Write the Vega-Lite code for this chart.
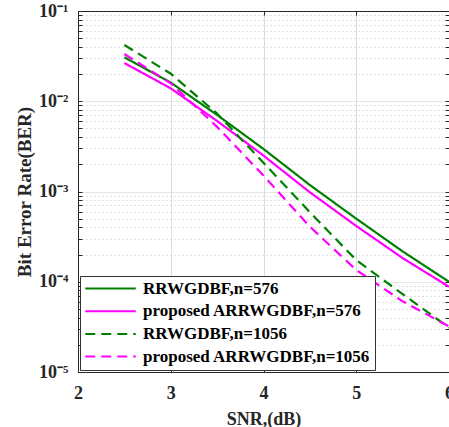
{
  "$schema": "https://vega.github.io/schema/vega-lite/v6.json",
  "width": 371,
  "height": 361,
  "autosize": {"type": "none"},
  "padding": {"left": 78, "top": 11, "right": 0, "bottom": 55},
  "background": "white",
  "config": {
    "view": {"stroke": null},
    "font": "Liberation Serif",
    "axis": {
      "labelFont": "Liberation Serif",
      "labelFontWeight": "bold",
      "labelFontSize": 18,
      "labelColor": "#262626",
      "titleFont": "Liberation Serif",
      "titleFontWeight": "bold",
      "titleFontSize": 18,
      "titleColor": "#262626",
      "domainColor": "#262626",
      "tickColor": "#262626",
      "tickSize": -4,
      "tickWidth": 1,
      "domainWidth": 1
    },
    "legend": {
      "orient": "bottom-left",
      "offset": 2,
      "title": null,
      "fillColor": "white",
      "strokeColor": "#333333",
      "strokeWidth": 1,
      "padding": 4,
      "symbolType": "stroke",
      "symbolSize": 2550,
      "symbolStrokeWidth": 2,
      "clipHeight": 17,
      "rowPadding": 4.7,
      "labelOffset": 6,
      "labelFont": "Liberation Serif",
      "labelFontWeight": "bold",
      "labelFontSize": 17,
      "labelColor": "#000000",
      "labelLimit": 400
    }
  },
  "data": {
    "values": [
      {"snr": 2.5, "ber": 0.0307, "series": "RRWGDBF,n=576"},
      {"snr": 3.0, "ber": 0.0161, "series": "RRWGDBF,n=576"},
      {"snr": 3.5, "ber": 0.00705, "series": "RRWGDBF,n=576"},
      {"snr": 4.0, "ber": 0.00296, "series": "RRWGDBF,n=576"},
      {"snr": 4.5, "ber": 0.00118, "series": "RRWGDBF,n=576"},
      {"snr": 5.0, "ber": 0.0005, "series": "RRWGDBF,n=576"},
      {"snr": 5.5, "ber": 0.000217, "series": "RRWGDBF,n=576"},
      {"snr": 6.0, "ber": 0.0001, "series": "RRWGDBF,n=576"},
      {"snr": 2.5, "ber": 0.0265, "series": "proposed ARRWGDBF,n=576"},
      {"snr": 3.0, "ber": 0.0139, "series": "proposed ARRWGDBF,n=576"},
      {"snr": 3.5, "ber": 0.00604, "series": "proposed ARRWGDBF,n=576"},
      {"snr": 4.0, "ber": 0.0025, "series": "proposed ARRWGDBF,n=576"},
      {"snr": 4.5, "ber": 0.00098, "series": "proposed ARRWGDBF,n=576"},
      {"snr": 5.0, "ber": 0.000415, "series": "proposed ARRWGDBF,n=576"},
      {"snr": 5.5, "ber": 0.000183, "series": "proposed ARRWGDBF,n=576"},
      {"snr": 6.0, "ber": 0.000088, "series": "proposed ARRWGDBF,n=576"},
      {"snr": 2.5, "ber": 0.042, "series": "RRWGDBF,n=1056"},
      {"snr": 3.0, "ber": 0.0202, "series": "RRWGDBF,n=1056"},
      {"snr": 3.5, "ber": 0.0073, "series": "RRWGDBF,n=1056"},
      {"snr": 4.0, "ber": 0.00208, "series": "RRWGDBF,n=1056"},
      {"snr": 4.5, "ber": 0.00059, "series": "RRWGDBF,n=1056"},
      {"snr": 5.0, "ber": 0.000174, "series": "RRWGDBF,n=1056"},
      {"snr": 5.5, "ber": 0.000073, "series": "RRWGDBF,n=1056"},
      {"snr": 6.0, "ber": 0.000031, "series": "RRWGDBF,n=1056"},
      {"snr": 2.5, "ber": 0.0334, "series": "proposed ARRWGDBF,n=1056"},
      {"snr": 3.0, "ber": 0.0158, "series": "proposed ARRWGDBF,n=1056"},
      {"snr": 3.5, "ber": 0.0052, "series": "proposed ARRWGDBF,n=1056"},
      {"snr": 4.0, "ber": 0.0015, "series": "proposed ARRWGDBF,n=1056"},
      {"snr": 4.5, "ber": 0.000407, "series": "proposed ARRWGDBF,n=1056"},
      {"snr": 5.0, "ber": 0.000135, "series": "proposed ARRWGDBF,n=1056"},
      {"snr": 5.5, "ber": 0.0000607, "series": "proposed ARRWGDBF,n=1056"},
      {"snr": 6.0, "ber": 0.000032, "series": "proposed ARRWGDBF,n=1056"}
    ]
  },
  "layer": [
    {
      "mark": {"type": "line", "strokeWidth": 2.2, "clip": true},
      "encoding": {
        "x": {
          "field": "snr",
          "type": "quantitative",
          "scale": {"domain": [2, 6], "nice": false, "zero": false},
          "axis": {
            "orient": "bottom",
            "values": [2, 3, 4, 5, 6],
            "format": "d",
            "title": "SNR,(dB)",
            "titlePadding": 8,
            "labelPadding": 16,
            "grid": true,
            "gridColor": "#dcdcdc",
            "gridWidth": 1,
            "labelFlush": false,
            "labelOverlap": false
          }
        },
        "y": {
          "field": "ber",
          "type": "quantitative",
          "scale": {"type": "log", "domain": [0.00001, 0.1], "nice": false},
          "axis": {
            "orient": "left",
            "values": [0.00001, 0.00002, 0.00003, 0.00004, 0.00005, 0.00006, 0.00007, 0.00008, 0.00009, 0.0001, 0.0002, 0.0003, 0.0004, 0.0005, 0.0006, 0.0007, 0.0008, 0.0009, 0.001, 0.002, 0.003, 0.004, 0.005, 0.006, 0.007, 0.008, 0.009, 0.01, 0.02, 0.03, 0.04, 0.05, 0.06, 0.07, 0.08, 0.09, 0.1],
            "labelExpr": "datum.value == 0.1 ? '10⁻¹' : datum.value == 0.01 ? '10⁻²' : datum.value == 0.001 ? '10⁻³' : datum.value == 0.0001 ? '10⁻⁴' : datum.value == 0.00001 ? '10⁻⁵' : ''",
            "title": "Bit Error Rate(BER)",
            "titleFontSize": 19,
            "titlePadding": 4,
            "labelPadding": 14,
            "labelOverlap": false,
            "labelFlush": false,
            "grid": true,
            "gridColor": {"condition": {"test": "indexof([0.1, 0.01, 0.001, 0.0001, 0.00001], datum.value) >= 0", "value": "#dcdcdc"}, "value": "#c4c4c4"},
            "gridDash": {"condition": {"test": "indexof([0.1, 0.01, 0.001, 0.0001, 0.00001], datum.value) >= 0", "value": [1, 0]}, "value": [1, 3]}
          }
        },
        "color": {
          "field": "series",
          "type": "nominal",
          "sort": null,
          "scale": {
            "domain": ["RRWGDBF,n=576", "proposed ARRWGDBF,n=576", "RRWGDBF,n=1056", "proposed ARRWGDBF,n=1056"],
            "range": ["#008000", "#ff00ff", "#008000", "#ff00ff"]
          },
          "legend": {"title": null}
        },
        "strokeDash": {
          "field": "series",
          "type": "nominal",
          "sort": null,
          "scale": {
            "domain": ["RRWGDBF,n=576", "proposed ARRWGDBF,n=576", "RRWGDBF,n=1056", "proposed ARRWGDBF,n=1056"],
            "range": [[1, 0], [1, 0], [10, 6], [10, 6]]
          },
          "legend": {"title": null}
        }
      }
    },
    {
      "mark": {"type": "point", "opacity": 0},
      "encoding": {
        "x": {
          "field": "snr",
          "type": "quantitative",
          "axis": {
            "orient": "top",
            "values": [2, 3, 4, 5, 6],
            "labels": false,
            "title": null,
            "grid": false
          }
        },
        "y": {
          "field": "ber",
          "type": "quantitative",
          "axis": {
            "orient": "right",
            "values": [0.00001, 0.00002, 0.00003, 0.00004, 0.00005, 0.00006, 0.00007, 0.00008, 0.00009, 0.0001, 0.0002, 0.0003, 0.0004, 0.0005, 0.0006, 0.0007, 0.0008, 0.0009, 0.001, 0.002, 0.003, 0.004, 0.005, 0.006, 0.007, 0.008, 0.009, 0.01, 0.02, 0.03, 0.04, 0.05, 0.06, 0.07, 0.08, 0.09, 0.1],
            "labels": false,
            "title": null,
            "grid": false
          }
        }
      }
    }
  ],
  "resolve": {"axis": {"x": "independent", "y": "independent"}}
}
